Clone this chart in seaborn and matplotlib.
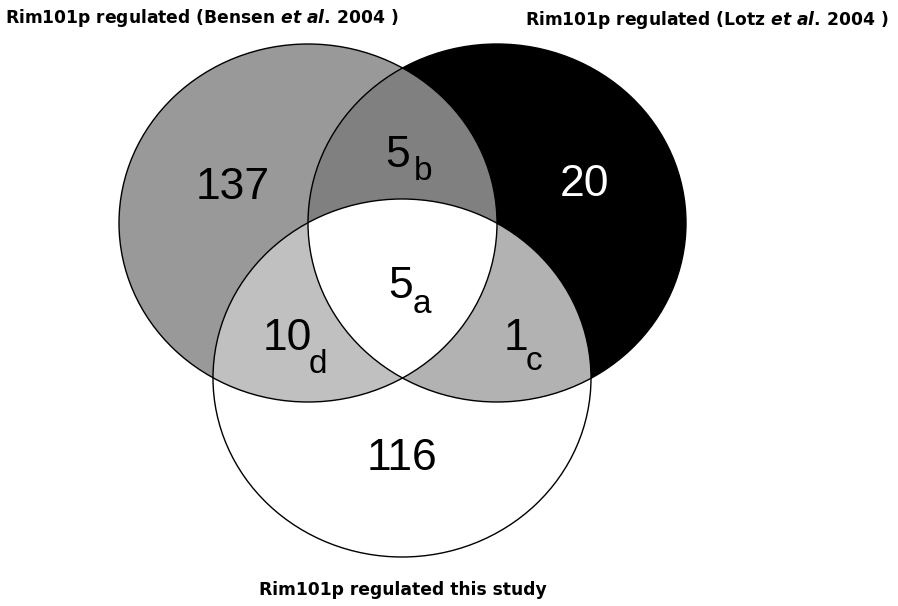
import numpy as np
import matplotlib
matplotlib.use("Agg")
import matplotlib.pyplot as plt
from matplotlib.patches import Ellipse, Polygon
import seaborn as sns

# Set names, region counts and their subscript tags
set_labels = [r"Rim101p regulated (Bensen $\mathit{et\ al.}\,$2004 )",
              r"Rim101p regulated (Lotz $\mathit{et\ al.}\,$2004 )",
              "Rim101p regulated this study"]
region_names = ["Bensen only", "Lotz only", "study only",
                "Bensen+Lotz", "Bensen+study", "Lotz+study", "all"]
region_counts = [137, 20, 116, 5, 10, 1, 5]
region_tags = ["", "", "", "b", "d", "c", "a"]

# Layout (pixel coordinates, y downwards)
centers = [(308, 223), (497, 223), (402, 378)]
rx, ry = 189, 179
num_pos = [(233, 199), (584, 196), (402, 470), (398, 167), (287, 350), (516, 350), (401, 298)]
tag_pos = [None, None, None, (423, 180), (318, 373), (534, 370), (422, 313)]
num_colors = ["black", "white", "black", "black", "black", "black", "black"]
label_pos = [(5, 23, "left"), (889, 25, "right"), (403, 595, "center")]

sns.set_theme(style="white")
plt.rcParams["mathtext.fontset"] = "custom"
plt.rcParams["mathtext.it"] = "DejaVu Sans:italic:bold"
plt.rcParams["mathtext.rm"] = "DejaVu Sans:bold"

fig = plt.figure(figsize=(8.98, 6.06), dpi=100)
ax = fig.add_axes([0, 0, 1, 1])
ax.set_xlim(0, 898)
ax.set_ylim(606, 0)
ax.set_axis_off()


def ell(c, **kw):
    return Ellipse(c, 2 * rx, 2 * ry, **kw)


def inside(c, pts):
    return ((pts[:, 0] - c[0]) / rx) ** 2 + ((pts[:, 1] - c[1]) / ry) ** 2 <= 1


# base circles
A = ax.add_patch(ell(centers[0], facecolor="#999999", edgecolor="none"))
B = ax.add_patch(ell(centers[1], facecolor="black", edgecolor="none"))
C = ax.add_patch(ell(centers[2], facecolor="none", edgecolor="none"))

# A and B overlap
ab = ax.add_patch(ell(centers[1], facecolor="#808080", edgecolor="none"))
ab.set_clip_path(A)
# A and C overlap
ac = ax.add_patch(ell(centers[2], facecolor="#c0c0c0", edgecolor="none"))
ac.set_clip_path(A)
# B and C overlap
bc = ax.add_patch(ell(centers[2], facecolor="#b2b2b2", edgecolor="none"))
bc.set_clip_path(B)

# centre (A and B and C) -> white: lens of A,B clipped to C
t = np.linspace(0, 2 * np.pi, 2000)
pa = np.c_[centers[0][0] + rx * np.cos(t), centers[0][1] + ry * np.sin(t)]
pb = np.c_[centers[1][0] + rx * np.cos(t), centers[1][1] + ry * np.sin(t)]
lens = np.vstack([pa[inside(centers[1], pa)], pb[inside(centers[0], pb)]])
mid = lens.mean(axis=0)
lens = lens[np.argsort(np.arctan2(lens[:, 1] - mid[1], lens[:, 0] - mid[0]))]
abc = ax.add_patch(Polygon(lens, closed=True, facecolor="white", edgecolor="none"))
abc.set_clip_path(C)

# outlines
for c in centers:
    ax.add_patch(ell(c, facecolor="none", edgecolor="black", linewidth=1.0))

# counts
for i, n in enumerate(region_counts):
    x, y = num_pos[i]
    ax.text(x, y, str(n), ha="center", va="baseline", fontsize=32,
            family="Liberation Sans", color=num_colors[i])
    if region_tags[i]:
        tx, ty = tag_pos[i]
        ax.text(tx, ty, region_tags[i], ha="center", va="baseline", fontsize=24,
                family="Liberation Sans", color=num_colors[i])

# set labels
for lab, (x, y, ha) in zip(set_labels, label_pos):
    ax.text(x, y, lab, ha=ha, va="baseline", fontsize=12.3,
            family="DejaVu Sans", fontweight="bold", color="black")

fig.savefig("out.png", dpi=100)
